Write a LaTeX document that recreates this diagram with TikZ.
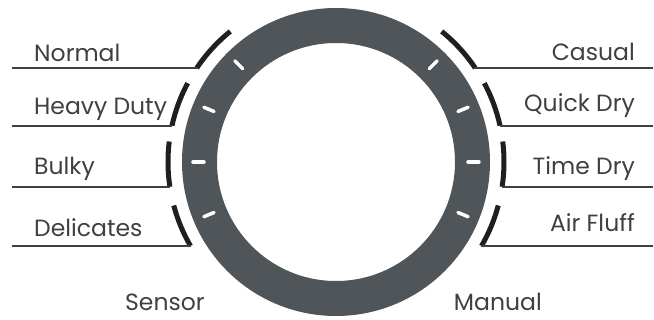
\documentclass[tikz,border=0pt]{standalone}
\usepackage{fontspec}
\setmainfont{Poppins}
\definecolor{dialgrey}{HTML}{4F5558}
\definecolor{labelgrey}{HTML}{404040}
\tikzset{
  labeltext/.style={font=\fontsize{23.5}{24}\selectfont, text=labelgrey, inner sep=0pt},
  leader/.style={line width=2pt, draw=labelgrey},
  marker/.style={line width=5pt, draw=black!88},
}
\begin{document}
\begin{tikzpicture}[x=1pt,y=1pt]
  \useasboundingbox (-336,-158) rectangle (318,162);

  % dial ring with white ticks
  \fill[dialgrey, even odd rule] (0,0) circle (154pt) (0,0) circle (119pt);
  \foreach \a in {135,157.5,180,202.5,45,22.5,0,-22.5}
    \draw[white, line width=3.5pt, line cap=round] (\a:132) -- (\a:143);

  \coordinate (LeftEnd) at (-324,0);
  \coordinate (RightEnd) at (317,0);

  \begin{scope}
    % left side settings
    \draw[marker] (129:168) arc[start angle=129, end angle=146, radius=168pt] coordinate (NormalEnd);
    \draw[marker] (152:168) arc[start angle=152, end angle=167.5, radius=168pt] coordinate (HeavyEnd);
    \draw[marker] (173:168) arc[start angle=173, end angle=188.5, radius=168pt] coordinate (BulkyEnd);
    \draw[marker] (195:168) arc[start angle=195, end angle=210, radius=168pt] coordinate (DelicatesEnd);
    \draw[leader] (LeftEnd |- NormalEnd) -- (NormalEnd);
    \draw[leader] (LeftEnd |- HeavyEnd) -- (HeavyEnd);
    \draw[leader] (LeftEnd |- BulkyEnd) -- (BulkyEnd);
    \draw[leader] (LeftEnd |- DelicatesEnd) -- (DelicatesEnd);
    \node[labeltext, anchor=base west] (normal) at (-302,100) {Normal};
    \node[labeltext, anchor=base west] (heavy) at (-302,47) {Heavy Duty};
    \node[labeltext, anchor=base west] (bulky) at (-302,-13) {Bulky};
    \node[labeltext, anchor=base west] (delicates) at (-302,-75) {Delicates};
  \end{scope}

  \begin{scope}
    % right side settings
    \draw[marker] (51:168) arc[start angle=51, end angle=34, radius=168pt] coordinate (CasualEnd);
    \draw[marker] (28:168) arc[start angle=28, end angle=12.5, radius=168pt] coordinate (QuickEnd);
    \draw[marker] (7:168) arc[start angle=7, end angle=-8.5, radius=168pt] coordinate (TimeEnd);
    \draw[marker] (-15:168) arc[start angle=-15, end angle=-30, radius=168pt] coordinate (FluffEnd);
    \draw[leader] (CasualEnd) -- (RightEnd |- CasualEnd);
    \draw[leader] (QuickEnd) -- (RightEnd |- QuickEnd);
    \draw[leader] (TimeEnd) -- (RightEnd |- TimeEnd);
    \draw[leader] (FluffEnd) -- (RightEnd |- FluffEnd);
    \node[labeltext, anchor=base east] (casual) at (299,101) {Casual};
    \node[labeltext, anchor=base east] (quick) at (299,50) {Quick Dry};
    \node[labeltext, anchor=base east] (time) at (299,-13) {Time Dry};
    \node[labeltext, anchor=base east] (fluff) at (299,-70) {Air Fluff};
  \end{scope}

  \node[labeltext, anchor=base west] (sensor) at (-211,-149) {Sensor};
  \node[labeltext, anchor=base east] (manual) at (206,-149) {Manual};
\end{tikzpicture}
\end{document}
